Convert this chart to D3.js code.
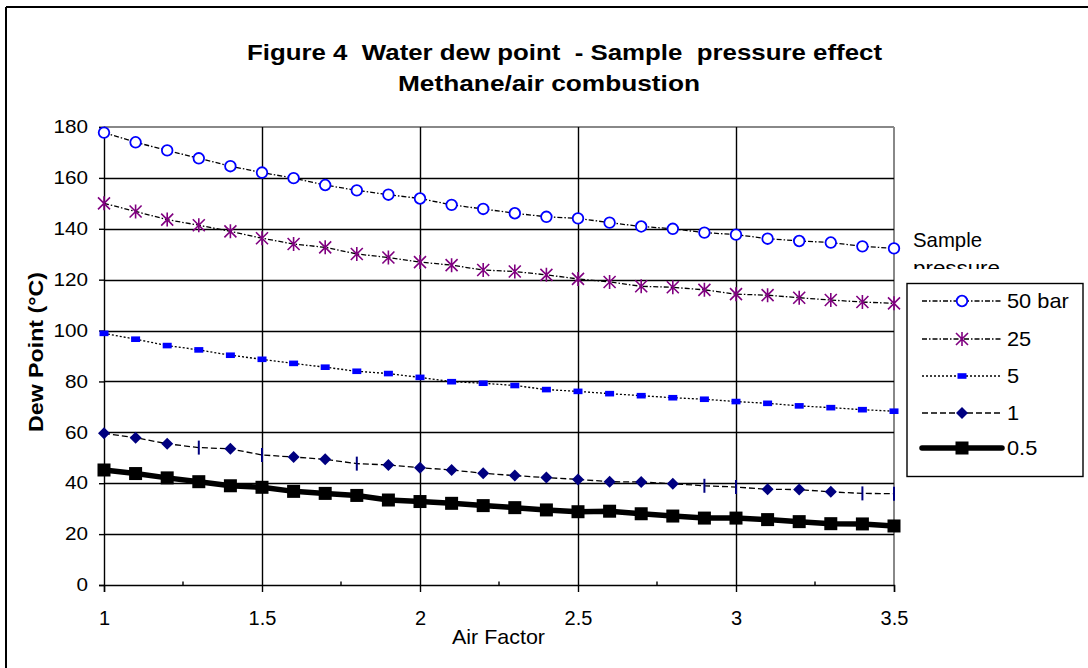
<!DOCTYPE html>
<html><head><meta charset="utf-8">
<script src="https://cdn.jsdelivr.net/npm/d3@7"></script>
<style>body{margin:0;background:#fff}svg{display:block;font-family:"Liberation Sans",Arial,sans-serif}text{white-space:pre}</style>
</head><body>
<svg id="c" width="1088" height="668"></svg>
<script>
const airFactor = [1.0,1.1,1.2,1.3,1.4,1.5,1.6,1.7,1.8,1.9,2.0,2.1,2.2,2.3,2.4,2.5,2.6,2.7,2.8,2.9,3.0,3.1,3.2,3.3,3.4,3.5];
const p50 = [177.8,174,170.8,167.7,164.6,162.1,159.9,157.2,155.1,153.4,151.9,149.4,147.8,146.1,144.7,144.1,142.4,140.9,140,138.5,137.7,136.1,135.2,134.6,133.1,132.3];
const p25 = [150,146.8,143.6,141.4,139,136.3,134,132.7,130.1,128.7,126.9,125.7,123.8,123.2,121.9,120.3,119.1,117.4,117,116,114.3,113.9,112.9,112,111.2,110.7];
const p5 = [98.9,96.6,94.1,92.4,90.3,88.7,87.1,85.6,84,83.1,81.6,79.9,79.3,78.4,76.8,76.1,75.2,74.4,73.6,73,72.1,71.4,70.4,69.7,68.9,68.3];
const p1 = [59.6,57.9,55.5,54,53.5,51.1,50.3,49.4,47.7,47.2,46.1,45.2,43.9,43,42.2,41.5,40.6,40.5,39.8,39,38.5,37.6,37.5,36.6,36,35.9];
const p05 = [45.2,43.8,42.1,40.6,39,38.4,36.8,36,35.2,33.4,32.8,32.1,31.2,30.4,29.5,28.8,29,28,27.1,26.3,26.3,25.7,24.9,24.1,24,23.2];
const p1BarMarkers = [1.3,1.5,1.8,2.9,3.0,3.4,3.5];
const seriesNames = ["50 bar","25","5","1","0.5"];
const xTicks = [1,1.5,2,2.5,3,3.5];
const xMinorTicks = [1.25,1.75,2.25,2.75,3.25];
const yTicks = [0,20,40,60,80,100,120,140,160,180];
const titleLines = ["Figure 4  Water dew point  - Sample  pressure effect","Methane/air combustion"];

const svg = d3.select("#c");
const L=104,R=894,T=127,B=585;
const x = d3.scaleLinear().domain([1,3.5]).range([L,R]);
const y = d3.scaleLinear().domain([0,180]).range([B,T]);

// outer frame
svg.append("line").attr("x1",6).attr("x2",1088).attr("y1",7).attr("y2",7).attr("stroke","#000").attr("stroke-width",2);
svg.append("line").attr("x1",6).attr("x2",6).attr("y1",7).attr("y2",668).attr("stroke","#000").attr("stroke-width",2);

// title
svg.append("text").attr("x",247).attr("y",60).attr("font-weight","bold").attr("font-size",22)
  .attr("textLength",635).attr("lengthAdjust","spacingAndGlyphs").text(titleLines[0]);
svg.append("text").attr("x",398).attr("y",91).attr("font-weight","bold").attr("font-size",22)
  .attr("textLength",302).attr("lengthAdjust","spacingAndGlyphs").text(titleLines[1]);

// plot border (gray top/right)
svg.append("line").attr("x1",L).attr("x2",R).attr("y1",T).attr("y2",T).attr("stroke","#888").attr("stroke-width",2);
svg.append("line").attr("x1",R).attr("x2",R).attr("y1",T).attr("y2",B).attr("stroke","#888").attr("stroke-width",2);

// gridlines
const g = svg.append("g");
yTicks.filter(v=>v>0&&v<180).forEach(v=>g.append("line").attr("x1",L).attr("x2",R).attr("y1",Math.round(y(v))+0.5).attr("y2",Math.round(y(v))+0.5).attr("stroke","#000").attr("stroke-width",1.4));
xTicks.filter(v=>v>1&&v<3.5).forEach(v=>g.append("line").attr("x1",Math.round(x(v))+0.5).attr("x2",Math.round(x(v))+0.5).attr("y1",T).attr("y2",B).attr("stroke","#000").attr("stroke-width",1.4));

// axes
const yAxis = d3.axisLeft(y).tickValues(yTicks).tickSize(5).tickFormat(d3.format("d"));
const ya = svg.append("g").attr("transform",`translate(${L},0)`).call(yAxis);
ya.select(".domain").attr("stroke","#000").attr("stroke-width",1.4);
ya.selectAll(".tick line").attr("stroke-width",1.4);
const sy = 1.15;
ya.selectAll("text").attr("font-size",18).attr("fill","#000").attr("font-family","Liberation Sans, Arial, sans-serif")
  .attr("x",-16/sy).attr("transform",`scale(${sy},1)`);
const xAxis = d3.axisBottom(x).tickValues(xTicks).tickSize(7).tickFormat(d=>String(d));
const xa = svg.append("g").attr("transform",`translate(0,${B})`).call(xAxis);
xa.select(".domain").attr("stroke","#000").attr("stroke-width",1.4);
xa.selectAll(".tick line").attr("stroke-width",1.4);
xa.selectAll("text").attr("font-size",20).attr("fill","#000").attr("font-family","Liberation Sans, Arial, sans-serif")
  .attr("y",40).attr("dy",0);
xMinorTicks.forEach(v=>svg.append("line").attr("x1",x(v)).attr("x2",x(v)).attr("y1",B).attr("y2",B-3.5).attr("stroke","#000").attr("stroke-width",1.4));

// axis titles
svg.append("text").attr("transform","translate(43,432) rotate(-90)").attr("font-weight","bold").attr("font-size",21)
  .attr("textLength",160).attr("lengthAdjust","spacingAndGlyphs").text("Dew Point (°C)");
svg.append("text").attr("x",452).attr("y",644).attr("font-size",21)
  .attr("textLength",93).attr("lengthAdjust","spacingAndGlyphs").text("Air Factor");

// marker drawers
function marker(sel, type){
  if(type==="circle") sel.append("circle").attr("r",5.3).attr("fill","#fff").attr("stroke","#0000ff").attr("stroke-width",1.8);
  else if(type==="star"){
    const s=6;
    sel.append("path").attr("d",`M${-s},${-s}L${s},${s}M${-s},${s}L${s},${-s}M0,${-s-1}L0,${s+1}`).attr("stroke","#800080").attr("stroke-width",1.6).attr("fill","none");
  }
  else if(type==="dash") sel.append("rect").attr("x",-4.5).attr("y",-2.8).attr("width",9).attr("height",5.6).attr("fill","#0000ff");
  else if(type==="diamond") sel.append("path").attr("d","M0,-6L6,0L0,6L-6,0Z").attr("fill","#000080");
  else if(type==="bar") sel.append("line").attr("y1",-7).attr("y2",7).attr("stroke","#000080").attr("stroke-width",2);
  else if(type==="square") sel.append("rect").attr("x",-6.5).attr("y",-6.5).attr("width",13).attr("height",13).attr("fill","#000");
}
const styles = [
  {vals:p50, dash:"5,2,1.5,2", w:1.3, m:"circle"},
  {vals:p25, dash:"5,2,1.5,2", w:1.3, m:"star"},
  {vals:p5, dash:"2,2", w:1.3, m:"dash"},
  {vals:p1, dash:"6,3", w:1.3, m:"diamond"},
  {vals:p05, dash:null, w:5.5, m:"square"}
];
const line = d3.line().x(d=>x(d[0])).y(d=>y(d[1]));
styles.forEach((s,i)=>{
  const pts = airFactor.map((a,j)=>[a,s.vals[j]]);
  const p = svg.append("path").attr("d",line(pts)).attr("fill","none").attr("stroke","#000").attr("stroke-width",s.w);
  if(s.dash) p.attr("stroke-dasharray",s.dash);
  pts.forEach(d=>{
    const gg = svg.append("g").attr("transform",`translate(${x(d[0])},${y(d[1])})`);
    let t = s.m;
    if(s.m==="diamond" && p1BarMarkers.some(v=>Math.abs(v-d[0])<1e-6)) t="bar";
    marker(gg,t);
  });
});

// legend label
svg.append("text").attr("x",913).attr("y",247).attr("font-size",21)
  .attr("textLength",69).attr("lengthAdjust","spacingAndGlyphs").text("Sample");
svg.append("defs").append("clipPath").attr("id","clipP").append("rect").attr("x",900).attr("y",255).attr("width",188).attr("height",14);
svg.append("text").attr("x",913).attr("y",275).attr("font-size",21).attr("clip-path","url(#clipP)")
  .attr("textLength",87).attr("lengthAdjust","spacingAndGlyphs").text("pressure");

// legend box
svg.append("rect").attr("x",907).attr("y",283.5).attr("width",176).attr("height",193).attr("fill","#fff").attr("stroke","#000").attr("stroke-width",1.4);
const rowsY=[301,339,376,413,448];
const sl = 1.09;
styles.forEach((s,i)=>{
  const ly = rowsY[i];
  const l = svg.append("line").attr("x1",922).attr("x2",1002).attr("y1",ly).attr("y2",ly).attr("stroke","#000").attr("stroke-width",s.w);
  if(s.dash) l.attr("stroke-dasharray",s.dash);
  if(!s.dash) l.attr("stroke-linecap","round");
  const gg = svg.append("g").attr("transform",`translate(962,${ly})`);
  marker(gg,s.m);
  svg.append("text").attr("transform",`translate(1007,${ly+7}) scale(${sl},1)`).attr("font-size",20).text(seriesNames[i]);
});
</script>
</body></html>
